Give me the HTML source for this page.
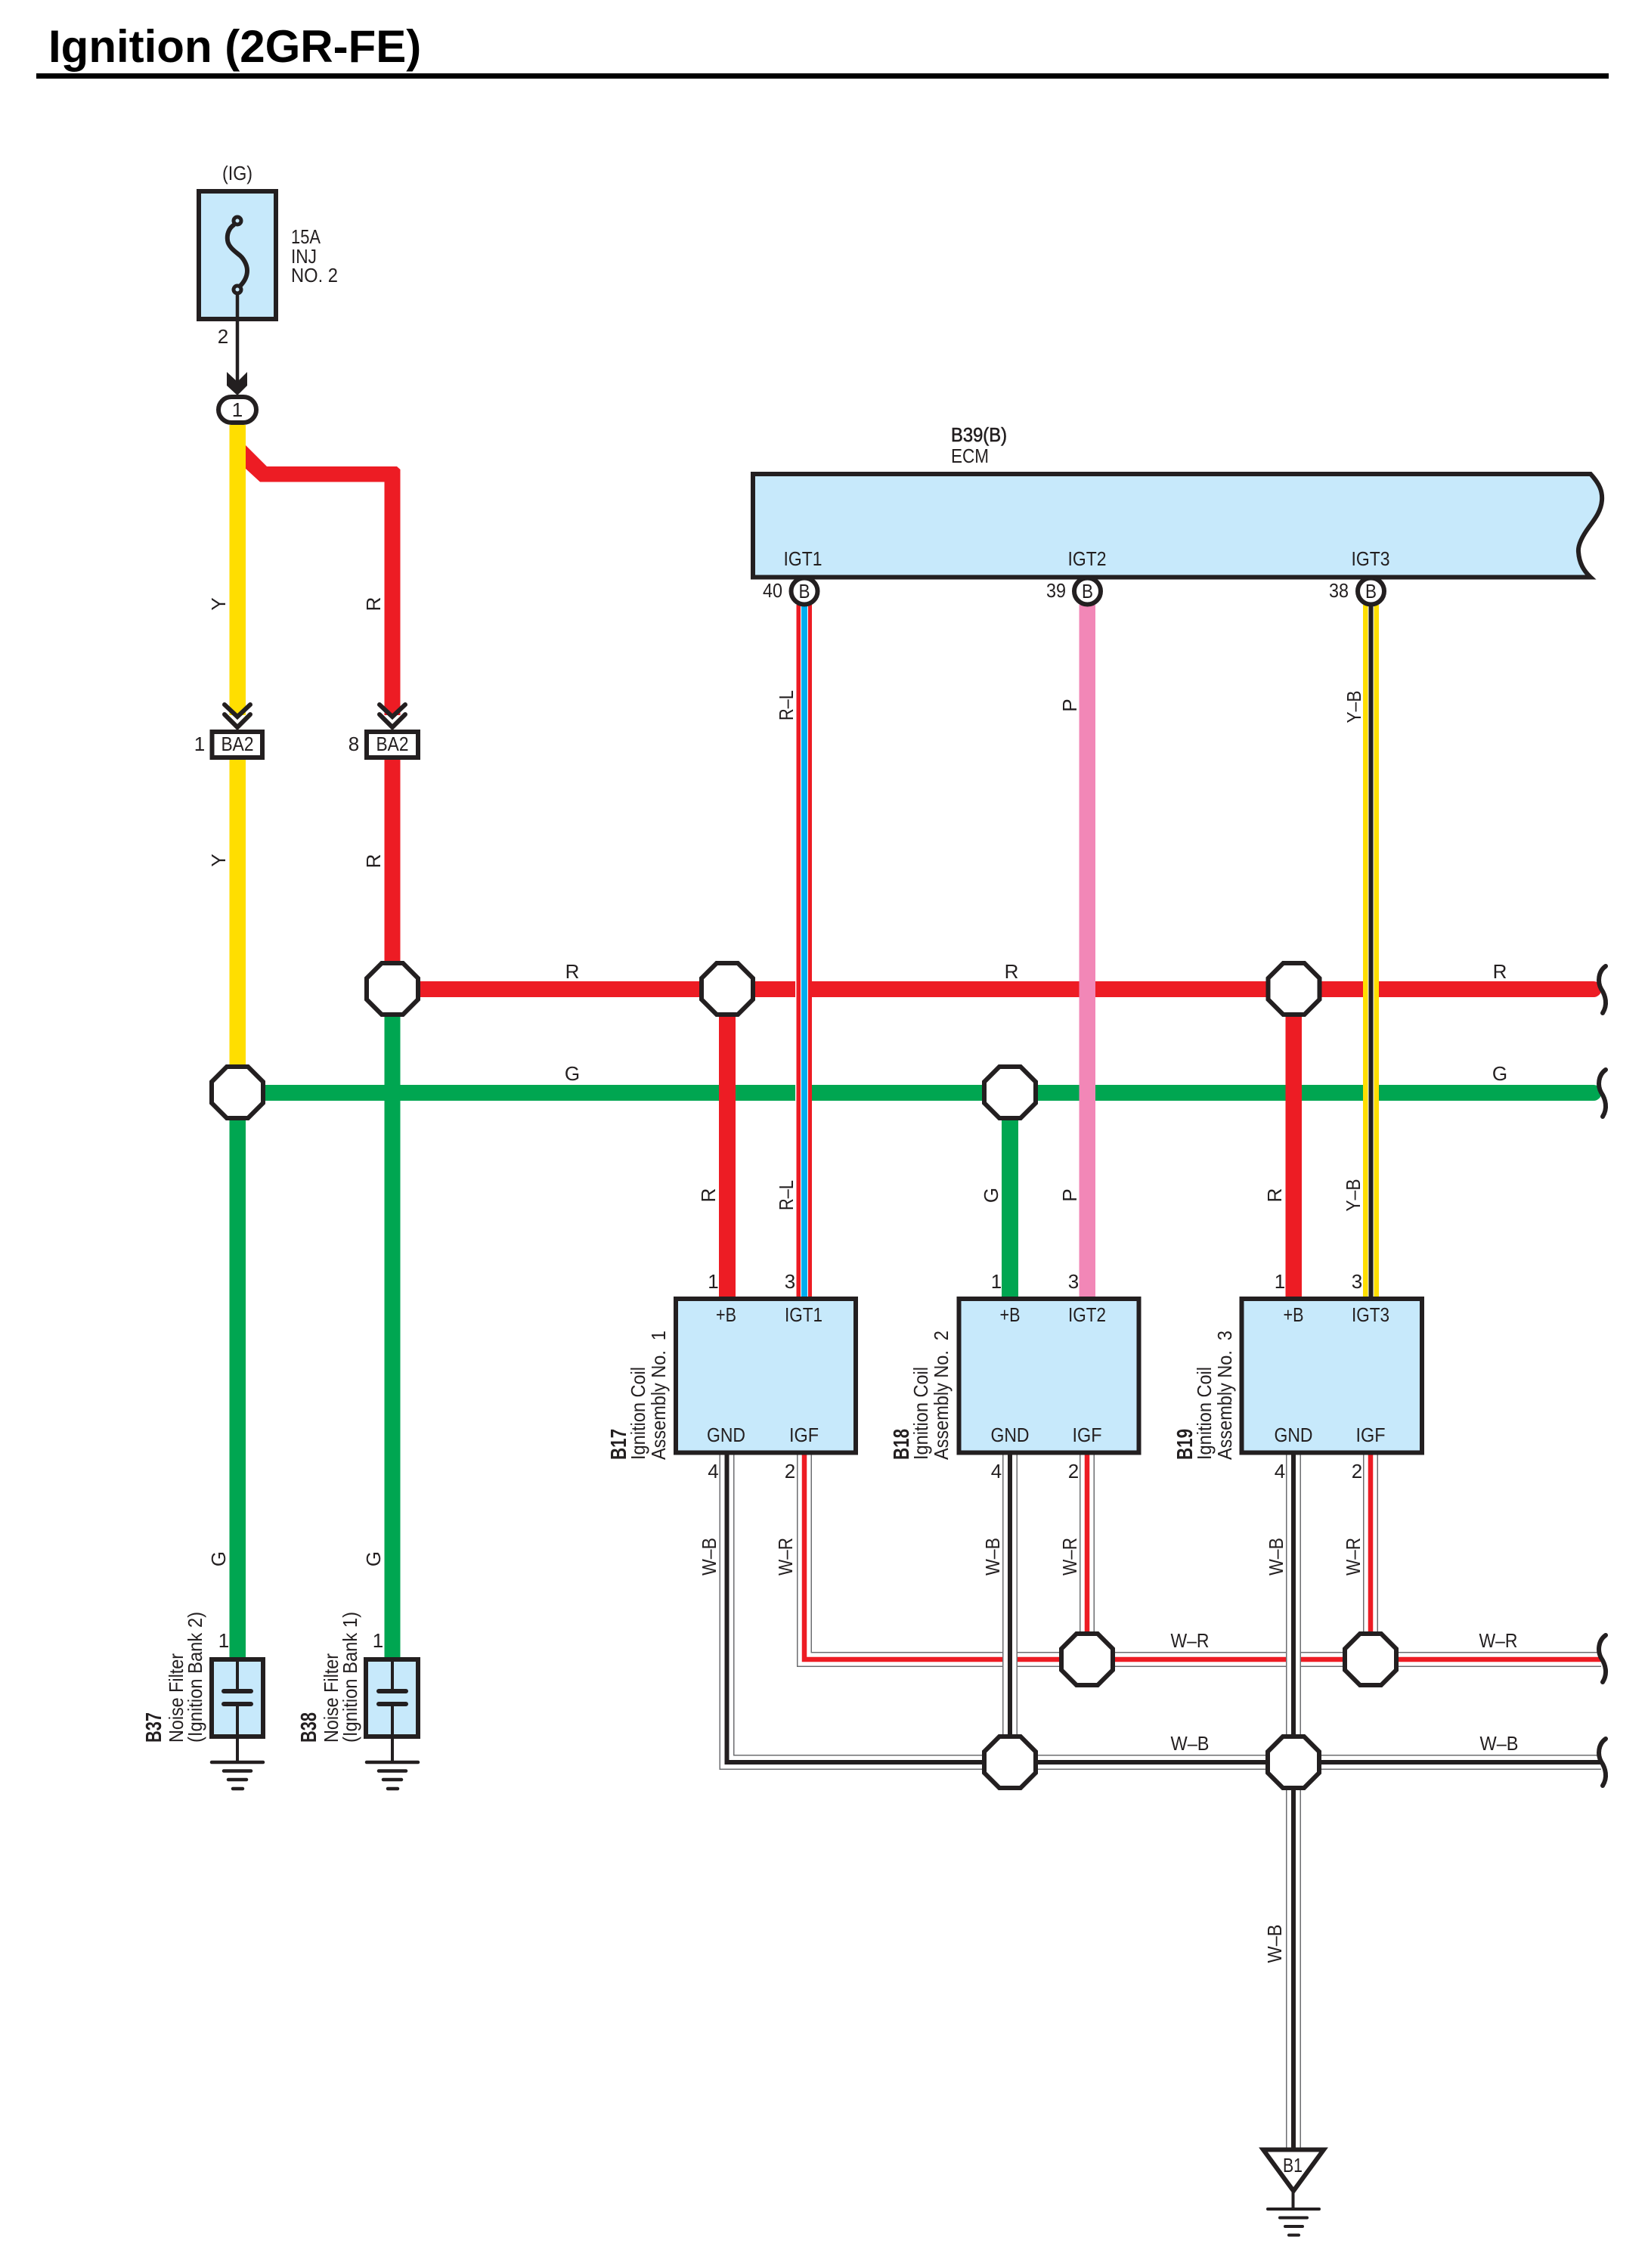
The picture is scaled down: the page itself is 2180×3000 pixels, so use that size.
<!DOCTYPE html>
<html>
<head>
<meta charset="utf-8">
<title>Ignition (2GR-FE)</title>
<style>
html,body{margin:0;padding:0;background:#fff}
svg{display:block}
text{font-family:"Liberation Sans",sans-serif;font-size:26px;fill:#231f20}
.m{text-anchor:middle}
.b{font-weight:bold}
.k{fill:none;stroke:#231f20}
.o{fill:#fff;stroke:#231f20;stroke-width:6}
.bx{fill:#c7e9fb;stroke:#231f20;stroke-width:6}
</style>
</head>
<body>
<svg xmlns="http://www.w3.org/2000/svg" width="2180" height="3000" viewBox="0 0 2180 3000">
<defs>
<polygon id="oc" class="o" points="-14,-34 14,-34 34,-14 34,14 14,34 -14,34 -34,14 -34,-14"/>
<path id="sq" class="k" stroke-width="6" stroke-linecap="round" d="M7,-31 C-3,-24 -4,-10 1,-1 C7,8 10,20 3,31"/>
</defs>
<rect width="2180" height="3000" fill="#fff"/>

<!-- Title -->
<text x="64" y="82" class="b" style="font-size:60px;fill:#000">Ignition (2GR-FE)</text>
<rect x="48" y="97" width="2080" height="7" fill="#000"/>

<!-- Fuse -->
<text x="314" y="238" class="m" textLength="40" lengthAdjust="spacingAndGlyphs">(IG)</text>
<rect class="bx" x="263" y="253" width="102" height="169"/>
<path class="k" stroke-width="6" d="M310,297 C302,302 300,311 301,318 C302,326 310,332 315,336 C322,341 327,350 327,358 C327,367 322,374 317,379"/>
<circle cx="314" cy="292" r="5" fill="#c7e9fb" stroke="#231f20" stroke-width="5"/>
<circle cx="314" cy="383" r="5" fill="#c7e9fb" stroke="#231f20" stroke-width="5"/>
<path class="k" stroke-width="4.5" d="M314,388 V505"/>
<text x="385" y="322" textLength="39" lengthAdjust="spacingAndGlyphs">15A</text>
<text x="385" y="348" textLength="34" lengthAdjust="spacingAndGlyphs">INJ</text>
<text x="385" y="373" textLength="62" lengthAdjust="spacingAndGlyphs">NO. 2</text>
<text x="295" y="454" class="m">2</text>
<polygon fill="#231f20" points="300,492 314,505 327,492 327,510 314,523 300,510"/>
<rect x="289" y="525" width="50" height="34" rx="17" fill="#fff" stroke="#231f20" stroke-width="6"/>
<text x="314" y="551" class="m">1</text>

<!-- Red feed with branch -->
<polygon fill="#ed1c24" points="325,589 353,617 525,617 529.5,621 529.5,946 508.5,946 508.5,637.5 344,637.5 325,620"/>
<!-- Yellow -->
<rect x="303.5" y="562" width="21.5" height="384" fill="#ffde00"/>
<rect x="303.5" y="1005" width="21.5" height="405" fill="#ffde00"/>
<!-- Red below connector -->
<rect x="508.5" y="1005" width="21" height="268" fill="#ed1c24"/>
<!-- Green vertical -->
<rect x="303.5" y="1480" width="21.5" height="714" fill="#00a651"/>
<rect x="508.5" y="1343" width="21" height="851" fill="#00a651"/>
<!-- Horizontal main wires -->
<rect x="519" y="1298" width="1589" height="21" fill="#ed1c24"/>
<rect x="314" y="1435" width="1794" height="21" fill="#00a651"/>
<circle cx="2108" cy="1308.5" r="10.5" fill="#ed1c24"/>
<circle cx="2108" cy="1445.5" r="10.5" fill="#00a651"/>
<!-- Red drops -->
<rect x="951" y="1343" width="22" height="373" fill="#ed1c24"/>
<rect x="1700.5" y="1343" width="21.5" height="373" fill="#ed1c24"/>
<rect x="1325" y="1480" width="22" height="236" fill="#00a651"/>

<!-- ECM signal wires -->
<rect x="1052" y="800" width="22" height="916" fill="#fff"/>
<rect x="1053.5" y="800" width="20.5" height="916" fill="#ed1c24"/>
<rect x="1059" y="800" width="10" height="916" fill="#fff"/>
<rect x="1060" y="800" width="8" height="916" fill="#00aeef"/>
<rect x="1427.5" y="800" width="21.5" height="916" fill="#f287b7"/>
<rect x="1803" y="800" width="21" height="916" fill="#ffde00"/>
<rect x="1809.5" y="800" width="8" height="916" fill="#fff"/>
<rect x="1810.5" y="800" width="6" height="916" fill="#231f20"/>

<!-- Chevrons -->
<g class="k" stroke-width="6" stroke-linecap="round" fill="none">
<path d="M297,932 L314,948 L331,932 M297,945 L314,962 L331,945"/>
<path d="M502,932 L519,948 L536,932 M502,945 L519,962 L536,945"/>
</g>
<!-- BA2 -->
<rect x="280.5" y="968" width="66.5" height="34" fill="#fff" stroke="#231f20" stroke-width="6"/>
<rect x="485" y="968" width="68" height="34" fill="#fff" stroke="#231f20" stroke-width="6"/>
<text x="314" y="993" class="m" textLength="43" lengthAdjust="spacingAndGlyphs">BA2</text>
<text x="519" y="993" class="m" textLength="43" lengthAdjust="spacingAndGlyphs">BA2</text>
<text x="264" y="993" class="m">1</text>
<text x="468" y="993" class="m">8</text>

<!-- ECM box -->
<path class="bx" stroke-linejoin="miter" d="M996,627 H2104 C2116,640 2120,650 2119,662 C2118,675 2111,685 2102,697 C2094,708 2087,720 2088,730 C2089,745 2095,755 2104,763.5 H996 Z"/>
<text x="1258" y="584" style="stroke:#231f20;stroke-width:.6" textLength="74" lengthAdjust="spacingAndGlyphs">B39(B)</text>
<text x="1258" y="612" textLength="50" lengthAdjust="spacingAndGlyphs">ECM</text>
<text x="1062" y="748" class="m" textLength="51" lengthAdjust="spacingAndGlyphs">IGT1</text>
<text x="1438" y="748" class="m" textLength="51" lengthAdjust="spacingAndGlyphs">IGT2</text>
<text x="1813" y="748" class="m" textLength="51" lengthAdjust="spacingAndGlyphs">IGT3</text>
<circle class="o" cx="1064" cy="782" r="17.5"/>
<circle class="o" cx="1438.5" cy="782" r="17.5"/>
<circle class="o" cx="1813.5" cy="782" r="17.5"/>
<text x="1064" y="791" class="m" textLength="15" lengthAdjust="spacingAndGlyphs">B</text>
<text x="1438.5" y="791" class="m" textLength="15" lengthAdjust="spacingAndGlyphs">B</text>
<text x="1813.5" y="791" class="m" textLength="15" lengthAdjust="spacingAndGlyphs">B</text>
<text x="1022" y="790" class="m" textLength="26" lengthAdjust="spacingAndGlyphs">40</text>
<text x="1397" y="790" class="m" textLength="26" lengthAdjust="spacingAndGlyphs">39</text>
<text x="1771" y="790" class="m" textLength="26" lengthAdjust="spacingAndGlyphs">38</text>

<!-- W-R wires -->
<g fill="none" stroke-linejoin="miter">
<g stroke="#6d6e71" stroke-width="20"><path d="M1064,1920 V2195 H2118"/><path d="M1438,1920 V2165"/><path d="M1813,1920 V2165"/></g>
<g stroke="#fff" stroke-width="17"><path d="M1064,1920 V2195 H2118"/><path d="M1438,1920 V2165"/><path d="M1813,1920 V2165"/></g>
<g stroke="#ed1c24" stroke-width="6.5"><path d="M1064,1920 V2195 H2118"/><path d="M1438,1920 V2165"/><path d="M1813,1920 V2165"/></g>
<!-- W-B wires -->
<g stroke="#6d6e71" stroke-width="20"><path d="M961.5,1920 V2331 H2118"/><path d="M1336,1920 V2300"/><path d="M1711,1920 V2845"/></g>
<g stroke="#fff" stroke-width="17"><path d="M961.5,1920 V2331 H2118"/><path d="M1336,1920 V2300"/><path d="M1711,1920 V2845"/></g>
<g stroke="#231f20" stroke-width="6"><path d="M961.5,1920 V2331 H2118"/><path d="M1336,1920 V2300"/><path d="M1711,1920 V2845"/></g>
</g>

<!-- Coils -->
<rect class="bx" x="894" y="1718" width="238" height="203.5"/>
<rect class="bx" x="1268.5" y="1718" width="238" height="203.5"/>
<rect class="bx" x="1642.5" y="1718" width="238.5" height="203.5"/>
<g class="m">
<text x="960.5" y="1748" class="m" textLength="27" lengthAdjust="spacingAndGlyphs">+B</text>
<text x="1063" y="1748" class="m" textLength="50" lengthAdjust="spacingAndGlyphs">IGT1</text>
<text x="960.5" y="1907" class="m" textLength="51" lengthAdjust="spacingAndGlyphs">GND</text>
<text x="1063.5" y="1907" class="m" textLength="39" lengthAdjust="spacingAndGlyphs">IGF</text>
<text x="1336" y="1748" class="m" textLength="27" lengthAdjust="spacingAndGlyphs">+B</text>
<text x="1438" y="1748" class="m" textLength="50" lengthAdjust="spacingAndGlyphs">IGT2</text>
<text x="1336" y="1907" class="m" textLength="51" lengthAdjust="spacingAndGlyphs">GND</text>
<text x="1438" y="1907" class="m" textLength="39" lengthAdjust="spacingAndGlyphs">IGF</text>
<text x="1711" y="1748" class="m" textLength="27" lengthAdjust="spacingAndGlyphs">+B</text>
<text x="1813" y="1748" class="m" textLength="50" lengthAdjust="spacingAndGlyphs">IGT3</text>
<text x="1711" y="1907" class="m" textLength="51" lengthAdjust="spacingAndGlyphs">GND</text>
<text x="1813" y="1907" class="m" textLength="39" lengthAdjust="spacingAndGlyphs">IGF</text>
</g>
<text x="943.5" y="1704" class="m">1</text><text x="1045" y="1704" class="m">3</text>
<text x="943.5" y="1955" class="m">4</text><text x="1045" y="1955" class="m">2</text>
<text x="1318" y="1704" class="m">1</text><text x="1420" y="1704" class="m">3</text>
<text x="1318" y="1955" class="m">4</text><text x="1420" y="1955" class="m">2</text>
<text x="1693" y="1704" class="m">1</text><text x="1795" y="1704" class="m">3</text>
<text x="1693" y="1955" class="m">4</text><text x="1795" y="1955" class="m">2</text>

<!-- Coil side labels -->
<text transform="translate(828,1931) rotate(-90)" class="b" style="font-size:29px" textLength="41" lengthAdjust="spacingAndGlyphs">B17</text>
<text transform="translate(853,1931) rotate(-90)" textLength="123" lengthAdjust="spacingAndGlyphs">Ignition Coil</text>
<text transform="translate(880,1931) rotate(-90)" textLength="171" lengthAdjust="spacingAndGlyphs" xml:space="preserve">Assembly No.  1</text>
<text transform="translate(1202,1931) rotate(-90)" class="b" style="font-size:29px" textLength="41" lengthAdjust="spacingAndGlyphs">B18</text>
<text transform="translate(1227,1931) rotate(-90)" textLength="123" lengthAdjust="spacingAndGlyphs">Ignition Coil</text>
<text transform="translate(1254,1931) rotate(-90)" textLength="171" lengthAdjust="spacingAndGlyphs" xml:space="preserve">Assembly No.  2</text>
<text transform="translate(1577,1931) rotate(-90)" class="b" style="font-size:29px" textLength="41" lengthAdjust="spacingAndGlyphs">B19</text>
<text transform="translate(1602,1931) rotate(-90)" textLength="123" lengthAdjust="spacingAndGlyphs">Ignition Coil</text>
<text transform="translate(1629,1931) rotate(-90)" textLength="171" lengthAdjust="spacingAndGlyphs" xml:space="preserve">Assembly No.  3</text>

<!-- Filters -->
<rect class="bx" x="280" y="2195" width="68" height="102"/>
<rect class="bx" x="484" y="2195" width="69" height="102"/>
<g class="k" stroke-width="4">
<path d="M314,2195 V2237 M314,2254 V2331 M519,2195 V2237 M519,2254 V2331"/>
</g>
<g class="k" stroke-width="6" stroke-linecap="round">
<path d="M296,2237 H332 M296,2254 H332 M501,2237 H537 M501,2254 H537"/>
<path stroke-width="4.5" d="M280,2331 H348 M296,2342.5 H332 M302,2354 H326 M308,2366 H321"/>
<path stroke-width="4.5" d="M485,2331 H553 M501,2342.5 H537 M507,2354 H531 M513,2366 H526"/>
</g>
<text x="296" y="2179" class="m">1</text>
<text x="500" y="2179" class="m">1</text>
<text transform="translate(213,2305) rotate(-90)" class="b" style="font-size:29px" textLength="40" lengthAdjust="spacingAndGlyphs">B37</text>
<text transform="translate(242,2305) rotate(-90)" textLength="118" lengthAdjust="spacingAndGlyphs">Noise Filter</text>
<text transform="translate(267,2305) rotate(-90)" textLength="173" lengthAdjust="spacingAndGlyphs">(Ignition Bank 2)</text>
<text transform="translate(418,2305) rotate(-90)" class="b" style="font-size:29px" textLength="40" lengthAdjust="spacingAndGlyphs">B38</text>
<text transform="translate(447,2305) rotate(-90)" textLength="118" lengthAdjust="spacingAndGlyphs">Noise Filter</text>
<text transform="translate(472,2305) rotate(-90)" textLength="173" lengthAdjust="spacingAndGlyphs">(Ignition Bank 1)</text>

<!-- Splices -->
<use href="#oc" x="519" y="1308"/>
<use href="#oc" x="962" y="1308"/>
<use href="#oc" x="1711.5" y="1308"/>
<use href="#oc" x="314" y="1445"/>
<use href="#oc" x="1336" y="1445"/>
<use href="#oc" x="1438" y="2195"/>
<use href="#oc" x="1813" y="2195"/>
<use href="#oc" x="1336" y="2331"/>
<use href="#oc" x="1711" y="2331"/>

<!-- Wire end squiggles -->
<use href="#sq" x="2117" y="1309"/>
<use href="#sq" x="2117" y="1446"/>
<use href="#sq" x="2117" y="2194"/>
<use href="#sq" x="2117" y="2331"/>

<!-- Horizontal wire labels -->
<text x="757" y="1294" class="m">R</text>
<text x="1338" y="1294" class="m">R</text>
<text x="1984" y="1294" class="m">R</text>
<text x="757" y="1429" class="m">G</text>
<text x="1984" y="1429" class="m">G</text>
<text x="1574" y="2179" class="m" textLength="51" lengthAdjust="spacingAndGlyphs">W–R</text>
<text x="1982" y="2179" class="m" textLength="51" lengthAdjust="spacingAndGlyphs">W–R</text>
<text x="1574" y="2315" class="m" textLength="51" lengthAdjust="spacingAndGlyphs">W–B</text>
<text x="1983" y="2315" class="m" textLength="51" lengthAdjust="spacingAndGlyphs">W–B</text>

<!-- Vertical wire labels -->
<text transform="translate(298,799) rotate(-90)" class="m">Y</text>
<text transform="translate(503,799) rotate(-90)" class="m">R</text>
<text transform="translate(298,1138) rotate(-90)" class="m">Y</text>
<text transform="translate(503,1139) rotate(-90)" class="m">R</text>
<text transform="translate(1049,933) rotate(-90)" class="m" textLength="40" lengthAdjust="spacingAndGlyphs">R–L</text>
<text transform="translate(1424,933) rotate(-90)" class="m">P</text>
<text transform="translate(1800,935) rotate(-90)" class="m" textLength="43" lengthAdjust="spacingAndGlyphs">Y–B</text>
<text transform="translate(946,1581) rotate(-90)" class="m">R</text>
<text transform="translate(1049,1581) rotate(-90)" class="m" textLength="40" lengthAdjust="spacingAndGlyphs">R–L</text>
<text transform="translate(1320,1581) rotate(-90)" class="m">G</text>
<text transform="translate(1424,1581) rotate(-90)" class="m">P</text>
<text transform="translate(1695,1581) rotate(-90)" class="m">R</text>
<text transform="translate(1799,1581) rotate(-90)" class="m" textLength="43" lengthAdjust="spacingAndGlyphs">Y–B</text>
<text transform="translate(298,2062) rotate(-90)" class="m">G</text>
<text transform="translate(503,2062) rotate(-90)" class="m">G</text>
<text transform="translate(947,2059) rotate(-90)" class="m" textLength="50" lengthAdjust="spacingAndGlyphs">W–B</text>
<text transform="translate(1048,2059) rotate(-90)" class="m" textLength="50" lengthAdjust="spacingAndGlyphs">W–R</text>
<text transform="translate(1322,2059) rotate(-90)" class="m" textLength="50" lengthAdjust="spacingAndGlyphs">W–B</text>
<text transform="translate(1424,2059) rotate(-90)" class="m" textLength="50" lengthAdjust="spacingAndGlyphs">W–R</text>
<text transform="translate(1697,2059) rotate(-90)" class="m" textLength="50" lengthAdjust="spacingAndGlyphs">W–B</text>
<text transform="translate(1799,2059) rotate(-90)" class="m" textLength="50" lengthAdjust="spacingAndGlyphs">W–R</text>
<text transform="translate(1695,2571) rotate(-90)" class="m" textLength="51" lengthAdjust="spacingAndGlyphs">W–B</text>

<!-- Ground B1 -->
<polygon fill="#fff" stroke="#231f20" stroke-width="6" stroke-linejoin="miter" points="1671,2843.5 1751,2843.5 1711,2898"/>
<text x="1710" y="2873" class="m" textLength="26" lengthAdjust="spacingAndGlyphs">B1</text>
<g class="k" stroke-width="4" stroke-linecap="round">
<path d="M1710.5,2900 V2922 M1677,2922 H1745 M1693,2933.5 H1729 M1700,2945 H1723 M1705,2956.5 H1718"/>
</g>
</svg>
</body>
</html>
